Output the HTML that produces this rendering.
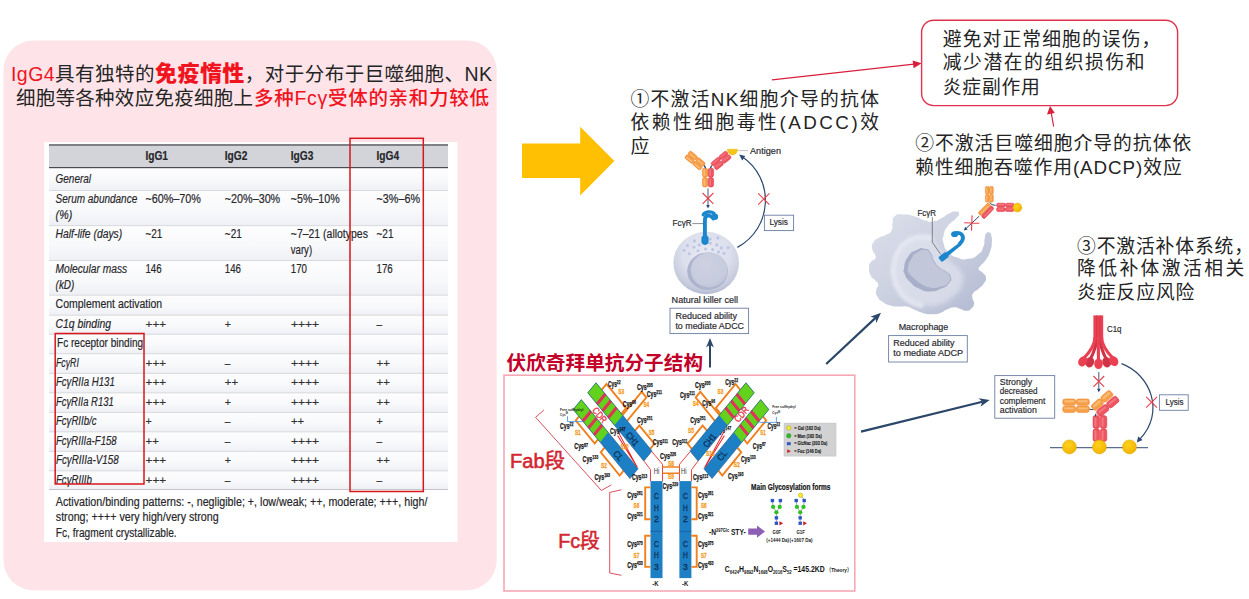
<!DOCTYPE html>
<html lang="zh"><head><meta charset="utf-8"><title>IgG4</title>
<style>
html,body{margin:0;padding:0;background:#fff;}
body{width:1249px;height:599px;overflow:hidden;}
svg{display:block;}
text{font-family:'Liberation Sans','Noto Sans CJK SC',sans-serif;}
</style></head><body>
<svg width="1249" height="599" viewBox="0 0 1249 599">
<rect x="3.5" y="40.5" width="493.2" height="549.8" rx="30" ry="30" fill="#fee4e9"/>
<text x="11" y="80.8" font-size="19.5" textLength="481" lengthAdjust="spacing" fill="#242424"><tspan fill="#f0141e">IgG4</tspan>具有独特的<tspan fill="#f0141e" font-weight="900" font-size="22">免疫惰性</tspan>，对于分布于巨噬细胞、NK</text>
<text x="16" y="105.3" font-size="19.5" textLength="237" lengthAdjust="spacing" fill="#242424">细胞等各种效应免疫细胞上</text>
<text x="254" y="105.3" font-size="19.5" textLength="235" lengthAdjust="spacing" fill="#f0141e" font-weight="500">多种Fcγ受体的亲和力较低</text>
<rect x="44" y="142" width="413.5" height="400" fill="#ffffff"/>
<defs><linearGradient id="rowg" x1="0" y1="0" x2="0" y2="1"><stop offset="0" stop-color="#fdfdfe"/><stop offset="0.55" stop-color="#f8f9fb"/><stop offset="1" stop-color="#eef0f5"/></linearGradient></defs>
<rect x="49" y="145" width="399" height="344.5" fill="#f6f7fa"/>
<rect x="49" y="167.5" width="399" height="22.9" fill="url(#rowg)"/>
<rect x="49" y="190.4" width="399" height="35.2" fill="url(#rowg)"/>
<rect x="49" y="225.6" width="399" height="34.8" fill="url(#rowg)"/>
<rect x="49" y="260.4" width="399" height="34.7" fill="url(#rowg)"/>
<rect x="49" y="295.1" width="399" height="20.0" fill="url(#rowg)"/>
<rect x="49" y="315.1" width="399" height="19.1" fill="url(#rowg)"/>
<rect x="49" y="334.2" width="399" height="19.5" fill="url(#rowg)"/>
<rect x="49" y="353.7" width="399" height="19.6" fill="url(#rowg)"/>
<rect x="49" y="373.3" width="399" height="19.5" fill="url(#rowg)"/>
<rect x="49" y="392.8" width="399" height="19.5" fill="url(#rowg)"/>
<rect x="49" y="412.3" width="399" height="19.5" fill="url(#rowg)"/>
<rect x="49" y="431.8" width="399" height="19.5" fill="url(#rowg)"/>
<rect x="49" y="451.3" width="399" height="19.5" fill="url(#rowg)"/>
<rect x="49" y="470.8" width="399" height="18.6" fill="url(#rowg)"/>
<rect x="49" y="145" width="399" height="22.5" fill="#d3d4da"/>
<rect x="49" y="144.3" width="399" height="1.3" fill="#4a4a50"/>
<rect x="49" y="167" width="399" height="1.2" fill="#4a4a50"/>
<rect x="49" y="190.0" width="399" height="0.9" fill="#d5d6da"/>
<rect x="49" y="225.2" width="399" height="0.9" fill="#d5d6da"/>
<rect x="49" y="260.0" width="399" height="0.9" fill="#d5d6da"/>
<rect x="49" y="294.70000000000005" width="399" height="0.9" fill="#d5d6da"/>
<rect x="49" y="314.70000000000005" width="399" height="0.9" fill="#d5d6da"/>
<rect x="49" y="333.8" width="399" height="0.9" fill="#d5d6da"/>
<rect x="49" y="353.3" width="399" height="0.9" fill="#d5d6da"/>
<rect x="49" y="372.90000000000003" width="399" height="0.9" fill="#d5d6da"/>
<rect x="49" y="392.40000000000003" width="399" height="0.9" fill="#d5d6da"/>
<rect x="49" y="411.90000000000003" width="399" height="0.9" fill="#d5d6da"/>
<rect x="49" y="431.40000000000003" width="399" height="0.9" fill="#d5d6da"/>
<rect x="49" y="450.90000000000003" width="399" height="0.9" fill="#d5d6da"/>
<rect x="49" y="470.40000000000003" width="399" height="0.9" fill="#d5d6da"/>
<rect x="49" y="489" width="399" height="1" fill="#c4c5ca"/>
<g fill="#26262a" stroke="#26262a" stroke-width="0.18">
<text x="145.4" y="160.4" font-size="12" textLength="22.6" lengthAdjust="spacingAndGlyphs" font-weight="bold">IgG1</text>
<text x="224.8" y="160.4" font-size="12" textLength="22.6" lengthAdjust="spacingAndGlyphs" font-weight="bold">IgG2</text>
<text x="290.8" y="160.4" font-size="12" textLength="22.6" lengthAdjust="spacingAndGlyphs" font-weight="bold">IgG3</text>
<text x="376.5" y="160.4" font-size="12" textLength="22.6" lengthAdjust="spacingAndGlyphs" font-weight="bold">IgG4</text>
<text x="55.6" y="183.3" font-size="12" textLength="35.4" lengthAdjust="spacingAndGlyphs" font-style="italic">General</text>
<text x="55.6" y="202.8" font-size="12" textLength="81.6" lengthAdjust="spacingAndGlyphs" font-style="italic">Serum abundance</text>
<text x="55.6" y="218.7" font-size="12" textLength="16.6" lengthAdjust="spacingAndGlyphs" font-style="italic">(%)</text>
<text x="145.4" y="202.8" font-size="12" textLength="55.5" lengthAdjust="spacingAndGlyphs">~60%–70%</text>
<text x="224.8" y="202.8" font-size="12" textLength="55.4" lengthAdjust="spacingAndGlyphs">~20%–30%</text>
<text x="290.8" y="202.8" font-size="12" textLength="48.9" lengthAdjust="spacingAndGlyphs">~5%–10%</text>
<text x="376.5" y="202.8" font-size="12" textLength="43.5" lengthAdjust="spacingAndGlyphs">~3%–6%</text>
<text x="55.6" y="237.6" font-size="12" textLength="66.6" lengthAdjust="spacingAndGlyphs" font-style="italic">Half-life (days)</text>
<text x="145.4" y="237.6" font-size="12" textLength="17" lengthAdjust="spacingAndGlyphs">~21</text>
<text x="224.8" y="237.6" font-size="12" textLength="17" lengthAdjust="spacingAndGlyphs">~21</text>
<text x="290.8" y="237.6" font-size="12" textLength="77.1" lengthAdjust="spacingAndGlyphs">~7–21 (allotypes</text>
<text x="290.8" y="253.7" font-size="12" textLength="21.3" lengthAdjust="spacingAndGlyphs">vary)</text>
<text x="376.5" y="237.6" font-size="12" textLength="17" lengthAdjust="spacingAndGlyphs">~21</text>
<text x="55.6" y="272.8" font-size="12" textLength="71.6" lengthAdjust="spacingAndGlyphs" font-style="italic">Molecular mass</text>
<text x="55.6" y="289" font-size="12" textLength="18.7" lengthAdjust="spacingAndGlyphs" font-style="italic">(kD)</text>
<text x="145.4" y="272.8" font-size="12" textLength="16.2" lengthAdjust="spacingAndGlyphs">146</text>
<text x="224.8" y="272.8" font-size="12" textLength="16.2" lengthAdjust="spacingAndGlyphs">146</text>
<text x="290.8" y="272.8" font-size="12" textLength="16.2" lengthAdjust="spacingAndGlyphs">170</text>
<text x="376.5" y="272.8" font-size="12" textLength="16.2" lengthAdjust="spacingAndGlyphs">176</text>
<text x="55.6" y="308.2" font-size="12" textLength="106.6" lengthAdjust="spacingAndGlyphs">Complement activation</text>
<text x="55.6" y="327.7" font-size="12" textLength="55.4" lengthAdjust="spacingAndGlyphs" font-style="italic">C1q binding</text>
<text x="57" y="346.6" font-size="12" textLength="86.1" lengthAdjust="spacingAndGlyphs">Fc receptor binding</text>
<text x="145.6" y="327.7" font-size="11.5" textLength="20.4" lengthAdjust="spacingAndGlyphs" fill="#3a3a40">+++</text>
<text x="224.8" y="327.7" font-size="11.5" textLength="6.2" lengthAdjust="spacingAndGlyphs" fill="#3a3a40">+</text>
<text x="290.9" y="327.7" font-size="11.5" textLength="28.3" lengthAdjust="spacingAndGlyphs" fill="#3a3a40">++++</text>
<text x="376.6" y="327.7" font-size="11.5" textLength="5.6" lengthAdjust="spacingAndGlyphs" fill="#3a3a40">–</text>
<text x="55.9" y="366.8" font-size="12" textLength="23" lengthAdjust="spacingAndGlyphs" font-style="italic">FcγRI</text>
<text x="145.6" y="366.8" font-size="11.5" textLength="20.4" lengthAdjust="spacingAndGlyphs" fill="#3a3a40">+++</text>
<text x="224.8" y="366.8" font-size="11.5" textLength="5.6" lengthAdjust="spacingAndGlyphs" fill="#3a3a40">–</text>
<text x="290.9" y="366.8" font-size="11.5" textLength="28.3" lengthAdjust="spacingAndGlyphs" fill="#3a3a40">++++</text>
<text x="376.6" y="366.8" font-size="11.5" textLength="13.2" lengthAdjust="spacingAndGlyphs" fill="#3a3a40">++</text>
<text x="55.9" y="386.3" font-size="12" textLength="58.9" lengthAdjust="spacingAndGlyphs" font-style="italic">FcγRIIa H131</text>
<text x="145.6" y="386.3" font-size="11.5" textLength="20.4" lengthAdjust="spacingAndGlyphs" fill="#3a3a40">+++</text>
<text x="224.8" y="386.3" font-size="11.5" textLength="13.2" lengthAdjust="spacingAndGlyphs" fill="#3a3a40">++</text>
<text x="290.9" y="386.3" font-size="11.5" textLength="28.3" lengthAdjust="spacingAndGlyphs" fill="#3a3a40">++++</text>
<text x="376.6" y="386.3" font-size="11.5" textLength="13.2" lengthAdjust="spacingAndGlyphs" fill="#3a3a40">++</text>
<text x="55.9" y="405.8" font-size="12" textLength="57.8" lengthAdjust="spacingAndGlyphs" font-style="italic">FcγRIIa R131</text>
<text x="145.6" y="405.8" font-size="11.5" textLength="20.4" lengthAdjust="spacingAndGlyphs" fill="#3a3a40">+++</text>
<text x="224.8" y="405.8" font-size="11.5" textLength="6.2" lengthAdjust="spacingAndGlyphs" fill="#3a3a40">+</text>
<text x="290.9" y="405.8" font-size="11.5" textLength="28.3" lengthAdjust="spacingAndGlyphs" fill="#3a3a40">++++</text>
<text x="376.6" y="405.8" font-size="11.5" textLength="13.2" lengthAdjust="spacingAndGlyphs" fill="#3a3a40">++</text>
<text x="55.9" y="425.3" font-size="12" textLength="40.6" lengthAdjust="spacingAndGlyphs" font-style="italic">FcγRIIb/c</text>
<text x="145.6" y="425.3" font-size="11.5" textLength="6.2" lengthAdjust="spacingAndGlyphs" fill="#3a3a40">+</text>
<text x="224.8" y="425.3" font-size="11.5" textLength="5.6" lengthAdjust="spacingAndGlyphs" fill="#3a3a40">–</text>
<text x="290.9" y="425.3" font-size="11.5" textLength="13.2" lengthAdjust="spacingAndGlyphs" fill="#3a3a40">++</text>
<text x="376.6" y="425.3" font-size="11.5" textLength="6.2" lengthAdjust="spacingAndGlyphs" fill="#3a3a40">+</text>
<text x="55.9" y="444.8" font-size="12" textLength="60.8" lengthAdjust="spacingAndGlyphs" font-style="italic">FcγRIIIa-F158</text>
<text x="145.6" y="444.8" font-size="11.5" textLength="13.2" lengthAdjust="spacingAndGlyphs" fill="#3a3a40">++</text>
<text x="224.8" y="444.8" font-size="11.5" textLength="5.6" lengthAdjust="spacingAndGlyphs" fill="#3a3a40">–</text>
<text x="290.9" y="444.8" font-size="11.5" textLength="28.3" lengthAdjust="spacingAndGlyphs" fill="#3a3a40">++++</text>
<text x="376.6" y="444.8" font-size="11.5" textLength="5.6" lengthAdjust="spacingAndGlyphs" fill="#3a3a40">–</text>
<text x="55.9" y="464.3" font-size="12" textLength="62.7" lengthAdjust="spacingAndGlyphs" font-style="italic">FcγRIIIa-V158</text>
<text x="145.6" y="464.3" font-size="11.5" textLength="20.4" lengthAdjust="spacingAndGlyphs" fill="#3a3a40">+++</text>
<text x="224.8" y="464.3" font-size="11.5" textLength="6.2" lengthAdjust="spacingAndGlyphs" fill="#3a3a40">+</text>
<text x="290.9" y="464.3" font-size="11.5" textLength="28.3" lengthAdjust="spacingAndGlyphs" fill="#3a3a40">++++</text>
<text x="376.6" y="464.3" font-size="11.5" textLength="13.2" lengthAdjust="spacingAndGlyphs" fill="#3a3a40">++</text>
<text x="55.9" y="483.8" font-size="12" textLength="36" lengthAdjust="spacingAndGlyphs" font-style="italic">FcγRIIIb</text>
<text x="145.6" y="483.8" font-size="11.5" textLength="20.4" lengthAdjust="spacingAndGlyphs" fill="#3a3a40">+++</text>
<text x="224.8" y="483.8" font-size="11.5" textLength="5.6" lengthAdjust="spacingAndGlyphs" fill="#3a3a40">–</text>
<text x="290.9" y="483.8" font-size="11.5" textLength="28.3" lengthAdjust="spacingAndGlyphs" fill="#3a3a40">++++</text>
<text x="376.6" y="483.8" font-size="11.5" textLength="5.6" lengthAdjust="spacingAndGlyphs" fill="#3a3a40">–</text>
<text x="55.8" y="505.8" font-size="12" textLength="371.6" lengthAdjust="spacingAndGlyphs">Activation/binding patterns: -, negligible; +, low/weak; ++, moderate; +++, high/</text>
<text x="55.8" y="521.4" font-size="12" textLength="162.9" lengthAdjust="spacingAndGlyphs">strong; ++++ very high/very strong</text>
<text x="55.8" y="537" font-size="12" textLength="120.9" lengthAdjust="spacingAndGlyphs">Fc, fragment crystallizable.</text>
</g>
<rect x="350" y="138.3" width="73.3" height="353.2" fill="none" stroke="#d8161c" stroke-width="1.5"/>
<rect x="55.2" y="333.5" width="88.8" height="150.5" fill="none" stroke="#d8161c" stroke-width="1.5"/>
<polygon points="522,143.4 580.2,143.4 580.2,126.8 614.4,161 580.2,195.5 580.2,178.1 522,178.1" fill="#ffbf03"/>
<text x="630.4" y="105.5" font-size="18.8" textLength="248.6" lengthAdjust="spacing" fill="#242424"><tspan font-family="Noto Sans CJK SC, sans-serif">①</tspan>不激活NK细胞介导的抗体</text>
<text x="630.4" y="128.5" font-size="18.8" textLength="248.6" lengthAdjust="spacing" fill="#242424">依赖性细胞毒性(ADCC)效</text>
<text x="630.4" y="152.5" font-size="19" fill="#242424">应</text>
<rect x="921.6" y="20.3" width="256" height="85.3" rx="12" ry="12" fill="#fff" stroke="#e0324e" stroke-width="1.4"/>
<text x="942.8" y="45.6" font-size="18.8" textLength="217.5" lengthAdjust="spacing" fill="#242424">避免对正常细胞的误伤，</text>
<text x="942.8" y="69.4" font-size="18.8" textLength="201.7" lengthAdjust="spacing" fill="#242424">减少潜在的组织损伤和</text>
<text x="942.8" y="93.6" font-size="18.8" textLength="97" lengthAdjust="spacing" fill="#242424">炎症副作用</text>
<g stroke="#d8203c" stroke-width="1.2" fill="#d8203c">
<line x1="772" y1="79.9" x2="914" y2="64.2"/>
<polygon points="921.6,63.3 912.6,60.6 913.6,68.2" stroke="none"/>
<line x1="1053.7" y1="126.5" x2="1051.2" y2="113"/>
<polygon points="1050,106 1047.0,114.5 1054.8,113" stroke="none"/>
</g>
<text x="915.2" y="149.8" font-size="18.8" textLength="276" lengthAdjust="spacing" fill="#242424"><tspan font-family="Noto Sans CJK SC, sans-serif">②</tspan>不激活巨噬细胞介导的抗体依</text>
<text x="915.2" y="173.6" font-size="18.8" textLength="266.5" lengthAdjust="spacing" fill="#242424">赖性细胞吞噬作用(ADCP)效应</text>
<text x="1077" y="253" font-size="18.8" textLength="176" lengthAdjust="spacing" fill="#242424"><tspan font-family="Noto Sans CJK SC, sans-serif">③</tspan>不激活补体系统，</text>
<text x="1077" y="275.4" font-size="18.8" textLength="167.2" lengthAdjust="spacing" fill="#242424">降低补体激活相关</text>
<text x="1077" y="299" font-size="18.8" textLength="117.4" lengthAdjust="spacing" fill="#242424">炎症反应风险</text>
<defs>
<radialGradient id="cellg" cx="0.5" cy="0.36" r="0.66">
<stop offset="0" stop-color="#e8eaf3"/><stop offset="0.55" stop-color="#dcdfec"/><stop offset="0.85" stop-color="#c6cbdd"/><stop offset="1" stop-color="#aeb5cf"/>
</radialGradient>
<radialGradient id="nucg" cx="0.4" cy="0.35" r="0.7">
<stop offset="0" stop-color="#cdd1e2"/><stop offset="0.8" stop-color="#c6cbdd"/><stop offset="1" stop-color="#bcc2d7"/>
</radialGradient>
<radialGradient id="yel" cx="0.4" cy="0.35" r="0.65">
<stop offset="0" stop-color="#ffd21e"/><stop offset="1" stop-color="#f2b400"/>
</radialGradient>
<linearGradient id="macg" x1="0" y1="0" x2="1" y2="1">
<stop offset="0" stop-color="#dde0eb"/><stop offset="0.5" stop-color="#cbd0e0"/><stop offset="1" stop-color="#b0b8d0"/>
</linearGradient>
<radialGradient id="halog" cx="0.45" cy="0.45" r="0.6">
<stop offset="0" stop-color="#e6e8f2" stop-opacity="0.95"/><stop offset="0.7" stop-color="#dfe2ee" stop-opacity="0.75"/><stop offset="1" stop-color="#d0d5e4" stop-opacity="0"/>
</radialGradient>
<filter id="blur1" x="-20%" y="-20%" width="140%" height="140%"><feGaussianBlur stdDeviation="1.6"/></filter>
<filter id="blur2" x="-20%" y="-20%" width="140%" height="140%"><feGaussianBlur stdDeviation="2.5"/></filter>
</defs>
<ellipse cx="706.2" cy="263" rx="32.8" ry="31.2" fill="url(#cellg)"/>
<ellipse cx="707.5" cy="271.2" rx="20.3" ry="18.8" fill="#adb4cd"/>
<ellipse cx="709.2" cy="270" rx="18.4" ry="17.4" fill="url(#nucg)"/>
<circle cx="694.5" cy="240.9" r="1.55" fill="#bcc5e6"/><circle cx="687.5" cy="245.5" r="1.55" fill="#bcc5e6"/><circle cx="693.9" cy="247.3" r="1.55" fill="#bcc5e6"/><circle cx="699.2" cy="244.9" r="1.55" fill="#bcc5e6"/><circle cx="710.3" cy="243.2" r="1.55" fill="#bcc5e6"/><circle cx="716.7" cy="244.9" r="1.55" fill="#bcc5e6"/><circle cx="721.4" cy="247.9" r="1.55" fill="#bcc5e6"/><circle cx="728.1" cy="247.6" r="1.55" fill="#bcc5e6"/><circle cx="684" cy="250.2" r="1.55" fill="#bcc5e6"/><circle cx="689.3" cy="253.7" r="1.55" fill="#bcc5e6"/><circle cx="698" cy="250.8" r="1.55" fill="#bcc5e6"/><circle cx="705.6" cy="249" r="1.55" fill="#bcc5e6"/><circle cx="712.6" cy="249.6" r="1.55" fill="#bcc5e6"/><circle cx="718.5" cy="251.9" r="1.55" fill="#bcc5e6"/><circle cx="724" cy="253.5" r="1.55" fill="#bcc5e6"/><circle cx="710.3" cy="239.1" r="1.55" fill="#bcc5e6"/><circle cx="717.9" cy="237.9" r="1.55" fill="#bcc5e6"/>
<path d="M704.9,243 L704.9,220 C704.9,216.5 707,215 709.5,215.6 C711.8,216.2 712.6,217.6 713.2,218.4" stroke="#1a86cc" stroke-width="3.9" fill="none" stroke-linecap="round"/>
<circle cx="714.8" cy="216.8" r="3.3" fill="#1a86cc"/>
<path d="M703.2,214.8 C705,211.5 711,211 714,213.2" stroke="#1a86cc" stroke-width="3.2" fill="none" stroke-linecap="round"/>
<rect x="701.4" y="235.6" width="7.2" height="9" rx="3" fill="#1a86cc"/>
<line x1="692.2" y1="223.6" x2="703.4" y2="223.6" stroke="#444" stroke-width="0.6"/>
<text x="672.6" y="226.2" font-size="8.3" textLength="19" lengthAdjust="spacingAndGlyphs" fill="#2a2a30" stroke="#2a2a30" stroke-width="0.18">FcγR</text>
<g transform="translate(702.90,167.00) rotate(-140.37)"><rect x="0.15" y="-4.60" width="9.89" height="4.35" rx="1.65" fill="#f6a04a" stroke="#ee7c22" stroke-width="0.5"/><rect x="1.34" y="-3.64" width="7.52" height="1.30" rx="0.65" fill="#fcc98a" opacity="0.7"/><rect x="0.15" y="0.25" width="9.89" height="4.35" rx="1.65" fill="#f6a04a" stroke="#ee7c22" stroke-width="0.5"/><rect x="1.34" y="1.21" width="7.52" height="1.30" rx="0.65" fill="#fcc98a" opacity="0.7"/><rect x="10.34" y="-4.60" width="9.89" height="4.35" rx="1.65" fill="#f6a04a" stroke="#ee7c22" stroke-width="0.5"/><rect x="11.53" y="-3.64" width="7.52" height="1.30" rx="0.65" fill="#fcc98a" opacity="0.7"/><rect x="10.34" y="0.25" width="9.89" height="4.35" rx="1.65" fill="#f6a04a" stroke="#ee7c22" stroke-width="0.5"/><rect x="11.53" y="1.21" width="7.52" height="1.30" rx="0.65" fill="#fcc98a" opacity="0.7"/></g>
<g transform="translate(713.40,166.90) rotate(-39.95)"><rect x="0.15" y="-4.60" width="9.74" height="4.35" rx="1.65" fill="#ee5560" stroke="#dc3344" stroke-width="0.5"/><rect x="1.32" y="-3.64" width="7.41" height="1.30" rx="0.65" fill="#f7868c" opacity="0.7"/><rect x="0.15" y="0.25" width="9.74" height="4.35" rx="1.65" fill="#ee5560" stroke="#dc3344" stroke-width="0.5"/><rect x="1.32" y="1.21" width="7.41" height="1.30" rx="0.65" fill="#f7868c" opacity="0.7"/><rect x="10.19" y="-4.60" width="9.74" height="4.35" rx="1.65" fill="#ee5560" stroke="#dc3344" stroke-width="0.5"/><rect x="11.36" y="-3.64" width="7.41" height="1.30" rx="0.65" fill="#f7868c" opacity="0.7"/><rect x="10.19" y="0.25" width="9.74" height="4.35" rx="1.65" fill="#ee5560" stroke="#dc3344" stroke-width="0.5"/><rect x="11.36" y="1.21" width="7.41" height="1.30" rx="0.65" fill="#f7868c" opacity="0.7"/></g>
<rect x="702.40" y="168.20" width="5.30" height="9.00" rx="2.01" fill="#f6a04a" stroke="#ee7c22" stroke-width="0.5"/><rect x="703.57" y="169.28" width="1.59" height="6.84" rx="0.79" fill="#fcc98a" opacity="0.7"/><rect x="702.40" y="177.60" width="5.30" height="9.40" rx="2.01" fill="#f6a04a" stroke="#ee7c22" stroke-width="0.5"/><rect x="703.57" y="178.73" width="1.59" height="7.14" rx="0.79" fill="#fcc98a" opacity="0.7"/><rect x="708.20" y="168.20" width="5.40" height="9.00" rx="2.05" fill="#ee5560" stroke="#dc3344" stroke-width="0.5"/><rect x="709.39" y="169.28" width="1.62" height="6.84" rx="0.81" fill="#f7868c" opacity="0.7"/><rect x="708.20" y="177.60" width="5.40" height="9.40" rx="2.05" fill="#ee5560" stroke="#dc3344" stroke-width="0.5"/><rect x="709.39" y="178.73" width="1.62" height="7.14" rx="0.81" fill="#f7868c" opacity="0.7"/>
<path d="M704.2,165.4 L705.6,168.2 M711.6,165.4 L710.4,168.2" stroke="#2c4870" stroke-width="1.3" fill="none"/>
<path d="M727.3,149.2 L737.6,149.2 A5.15,5.8 0 0 1 727.3,149.2 Z" fill="#f7c51a" stroke="#e0a800" stroke-width="0.4"/>
<line x1="738.4" y1="150.6" x2="748" y2="150.6" stroke="#999" stroke-width="0.6"/>
<text x="750" y="153.8" font-size="8.3" textLength="31" lengthAdjust="spacingAndGlyphs" fill="#2a2a30" stroke="#2a2a30" stroke-width="0.18">Antigen</text>
<line x1="708.0" y1="188.4" x2="708.0" y2="205.0" stroke="#2c4870" stroke-width="0.9"/>
<polygon points="708.0,208.6 706.2,205.0 708.0,205.0 709.8,205.0" fill="#2c4870"/>
<path d="M702.6,193.0 L713.4,203.8 M713.4,193.0 L702.6,203.8" stroke="#e8404c" stroke-width="1.1" fill="none"/>
<path d="M737.4,247.4 C773,228 775,178 741.4,156.2" stroke="#2c4870" stroke-width="1.2" fill="none"/>
<polygon points="739.2,154.6 745.2,156.0 742.2,160.4" fill="#2c4870"/>
<path d="M758.2,193.4 L769.4,204.6 M769.4,193.4 L758.2,204.6" stroke="#e8404c" stroke-width="1.1" fill="none"/>
<rect x="764.4" y="215.2" width="29.2" height="15.4" fill="#fff" stroke="#6c7ca4" stroke-width="0.9"/>
<text x="769.4" y="225.4" font-size="8.3" textLength="18.6" lengthAdjust="spacingAndGlyphs" fill="#2a2a30" stroke="#2a2a30" stroke-width="0.18">Lysis</text>
<text x="671.6" y="303.2" font-size="8.3" textLength="66.4" lengthAdjust="spacingAndGlyphs" fill="#2a2a30" stroke="#2a2a30" stroke-width="0.18">Natural killer cell</text>
<rect x="670" y="308.2" width="78.6" height="25.4" fill="#fff" stroke="#6c7ca4" stroke-width="0.9"/>
<text x="675.4" y="319.2" font-size="8.3" textLength="61.6" lengthAdjust="spacingAndGlyphs" fill="#2a2a30" stroke="#2a2a30" stroke-width="0.18">Reduced ability</text>
<text x="675.4" y="328.8" font-size="8.3" textLength="68.6" lengthAdjust="spacingAndGlyphs" fill="#2a2a30" stroke="#2a2a30" stroke-width="0.18">to mediate ADCC</text>
<line x1="710.0" y1="367.5" x2="710.0" y2="344.8" stroke="#2a4668" stroke-width="2"/>
<polygon points="710.0,338.0 713.9,347.4 710.0,344.8 706.1,347.4" fill="#2a4668"/>
<line x1="826.2" y1="364.0" x2="875.5" y2="317.9" stroke="#2a4668" stroke-width="2.2"/>
<polygon points="881.0,312.7 876.3,323.0 875.5,317.9 870.4,316.7" fill="#2a4668"/>
<line x1="861.0" y1="431.6" x2="982.4" y2="401.8" stroke="#2a4668" stroke-width="2.2"/>
<polygon points="989.7,400.0 980.5,406.7 982.4,401.8 978.5,398.3" fill="#2a4668"/>
<path d="M894.7,216.3 C898.3,213.5 896.9,214.5 903.4,214.5 C909.9,214.5 907.0,214.3 914.3,216.3 C921.5,218.3 918.8,219.0 925.1,220.6 C931.5,222.3 927.9,222.1 933.4,221.3 C938.8,220.5 936.2,220.8 941.4,218.2 C946.6,215.6 944.4,215.7 949.0,213.5 C953.6,211.2 951.7,211.5 955.1,211.5 C958.4,211.5 958.7,211.1 959.0,213.5 C959.3,215.8 959.6,214.3 955.9,218.5 C952.3,222.6 952.0,220.6 947.9,226.0 C943.9,231.5 945.2,228.9 943.8,234.7 C942.3,240.5 942.0,237.6 943.6,243.4 C945.2,249.2 943.9,247.3 948.6,252.1 C953.3,256.9 951.0,255.5 957.7,257.7 C964.3,260.0 961.7,260.0 968.5,258.8 C975.4,257.7 973.4,258.3 978.3,254.3 C983.2,250.2 981.2,251.7 983.3,246.7 C985.4,241.6 983.7,243.4 984.6,239.1 C985.5,234.7 984.5,235.8 986.1,233.6 C987.7,231.5 987.6,231.6 989.4,232.6 C991.2,233.5 990.7,233.0 991.5,236.5 C992.3,239.9 992.2,238.1 991.8,243.0 C991.3,247.8 992.2,245.4 990.2,251.0 C988.3,256.6 989.2,254.8 985.9,259.7 C982.6,264.6 982.8,262.5 980.5,265.8 C978.2,269.0 978.2,267.1 978.9,269.5 C979.7,271.8 980.5,270.3 982.9,272.9 C985.2,275.6 985.6,273.9 985.9,277.5 C986.2,281.0 986.3,279.7 983.7,283.6 C981.2,287.4 981.8,285.9 978.3,289.0 C974.8,292.1 975.3,289.9 973.3,292.9 C971.4,295.9 972.2,294.6 972.4,298.1 C972.7,301.6 974.3,299.8 974.0,303.3 C973.6,306.8 973.9,306.1 971.4,308.5 C968.8,311.0 970.2,310.6 966.4,310.7 C962.5,310.8 964.2,309.8 959.8,308.7 C955.5,307.7 957.7,307.2 953.3,307.4 C949.0,307.7 951.2,307.8 946.8,309.6 C942.5,311.4 945.4,311.4 940.3,312.9 C935.2,314.4 937.4,314.2 931.6,314.2 C925.8,314.2 928.7,314.4 922.9,312.9 C917.2,311.4 919.7,311.7 914.3,309.6 C908.8,307.5 911.7,307.6 906.7,306.6 C901.6,305.6 904.5,306.9 899.1,306.6 C893.6,306.2 895.8,307.0 890.4,305.5 C885.0,304.0 887.1,305.0 882.8,302.0 C878.5,299.1 879.5,300.6 877.4,296.6 C875.2,292.6 876.0,294.1 876.3,290.1 C876.6,286.1 878.6,287.9 878.2,284.7 C877.9,281.4 877.8,283.6 875.2,280.3 C872.6,277.1 872.4,279.2 870.4,274.9 C868.4,270.5 869.0,271.6 869.1,267.3 C869.3,262.9 868.8,264.8 870.9,261.9 C872.9,258.9 873.9,260.9 875.2,258.4 C876.5,255.9 875.8,257.4 874.8,254.3 C873.7,251.1 872.6,252.8 872.2,248.8 C871.7,244.9 871.4,245.9 873.5,242.3 C875.6,238.7 874.3,240.5 878.5,238.0 C882.6,235.5 881.7,237.3 886.0,234.7 C890.4,232.2 889.3,234.4 891.5,230.4 C893.6,226.4 891.5,227.5 892.6,222.8 C893.6,218.1 891.1,219.0 894.7,216.3 Z" fill="url(#macg)"/>
<path d="M930.1,238.3 C926.1,238.3 925.6,236.8 918.0,238.3 C910.5,239.7 913.6,238.3 907.4,242.7 C901.1,247.1 903.6,244.0 899.3,251.4 C895.1,258.7 896.1,255.8 894.7,264.7 C893.2,273.6 893.3,269.6 895.1,278.1 C896.9,286.5 895.5,283.0 900.0,290.1 C904.6,297.2 901.8,294.6 908.7,299.4 C915.6,304.3 916.7,303.0 920.7,304.8" fill="none" stroke="#e9ebf4" stroke-width="6.5" stroke-linecap="round" opacity="0.85" filter="url(#blur1)"/>
<path d="M930.1,239.3 C922.5,235.8 925.6,238.0 918.0,239.3 C910.5,240.7 913.4,239.1 907.4,243.4 C901.4,247.6 903.9,244.9 900.0,252.0 C896.1,259.2 896.9,256.0 895.6,264.7 C894.3,273.4 894.3,269.6 896.0,278.1 C897.7,286.5 896.2,283.0 900.7,290.1 C905.1,297.2 902.2,294.6 909.4,299.4 C916.5,304.3 912.5,303.0 922.1,304.8 C931.6,306.6 927.8,307.5 938.1,304.8 C948.3,302.1 944.8,303.9 952.8,296.8 C960.8,289.7 959.9,292.3 962.1,283.4 C964.3,274.5 963.9,277.6 959.4,270.1 C955.0,262.5 955.0,267.4 948.8,260.7 C942.5,254.0 947.0,257.2 940.8,250.0 C934.5,242.9 937.6,242.9 930.1,239.3 Z" fill="#dde0ec" opacity="0.8" filter="url(#blur2)"/>
<path d="M904.0,268.7 C905.1,262.9 903.8,262.9 908.0,256.7 C912.3,250.5 911.1,252.7 916.7,250.0 C922.3,247.4 920.1,247.8 924.7,248.7 C929.4,249.6 927.6,248.7 930.7,252.7 C933.9,256.7 931.2,255.8 934.1,260.7 C937.0,265.6 935.4,263.8 939.4,267.4 C943.4,271.0 942.3,268.3 946.1,271.4 C949.9,274.5 949.9,272.7 950.8,276.7 C951.7,280.8 952.1,279.4 948.8,283.4 C945.4,287.4 947.0,286.1 940.8,288.8 C934.5,291.4 937.2,291.4 930.1,291.4 C922.9,291.4 926.1,291.9 919.4,288.8 C912.7,285.6 914.9,287.0 910.0,282.1 C905.1,277.2 906.7,278.5 904.7,274.1 C902.7,269.6 902.9,274.5 904.0,268.7 Z" fill="#a8afc8"/>
<path d="M908.0,268.7 C908.6,263.6 908.0,264.3 911.4,258.7 C914.7,253.1 913.5,254.9 918.0,252.0 C922.6,249.1 921.0,249.5 925.0,250.0 C929.0,250.5 927.2,249.8 930.1,253.5 C932.9,257.2 930.6,256.4 933.5,261.3 C936.5,266.1 934.9,264.4 938.9,267.9 C942.9,271.5 941.9,268.9 945.6,271.9 C949.2,275.0 949.0,273.4 949.8,277.0 C950.6,280.7 951.0,279.7 948.0,282.9 C944.9,286.1 946.3,285.0 940.8,286.6 C935.2,288.2 937.4,288.3 931.4,287.7 C925.4,287.1 928.3,287.7 922.7,284.8 C917.2,281.8 919.0,282.3 914.7,278.7 C910.4,275.2 912.0,277.4 909.8,274.1 C907.5,270.7 907.5,273.9 908.0,268.7 Z" fill="#c2c7da"/>
<g transform="translate(943.6,257.0) rotate(-38)"><rect x="-4.6" y="-3.1" width="9.2" height="6.2" rx="1.6" fill="#1a86cc"/><polygon points="4,-2 21.6,-1.5 21.6,1.5 4,2" fill="#1a86cc"/></g>
<path d="M959.8,243.6 C962.6,241 963.6,238.6 962.6,236 C961.6,233.4 958.6,232.4 955.6,233.2" stroke="#1a86cc" stroke-width="3.9" fill="none" stroke-linecap="round"/>
<ellipse cx="954.6" cy="234.2" rx="3.5" ry="2.9" fill="#1a86cc"/>
<path d="M932.3,217 L932.3,242.3 L940.7,254.3" stroke="#444" stroke-width="0.6" fill="none"/>
<text x="917.5" y="215.6" font-size="8.3" textLength="18.5" lengthAdjust="spacingAndGlyphs" fill="#2a2a30" stroke="#2a2a30" stroke-width="0.18">FcγR</text>
<rect x="985.40" y="186.40" width="3.80" height="7.80" rx="1.44" fill="#f6a04a" stroke="#ee7c22" stroke-width="0.5"/><rect x="986.24" y="187.34" width="1.14" height="5.93" rx="0.57" fill="#fcc98a" opacity="0.7"/><rect x="985.40" y="194.40" width="3.80" height="7.80" rx="1.44" fill="#f6a04a" stroke="#ee7c22" stroke-width="0.5"/><rect x="986.24" y="195.34" width="1.14" height="5.93" rx="0.57" fill="#fcc98a" opacity="0.7"/><rect x="989.50" y="186.40" width="3.80" height="7.80" rx="1.44" fill="#f6a04a" stroke="#ee7c22" stroke-width="0.5"/><rect x="990.34" y="187.34" width="1.14" height="5.93" rx="0.57" fill="#fcc98a" opacity="0.7"/><rect x="989.50" y="194.40" width="3.80" height="7.80" rx="1.44" fill="#f6a04a" stroke="#ee7c22" stroke-width="0.5"/><rect x="990.34" y="195.34" width="1.14" height="5.93" rx="0.57" fill="#fcc98a" opacity="0.7"/>
<g transform="translate(989.60,204.00) rotate(134.44)"><rect x="0.00" y="-2.10" width="14.57" height="4.20" rx="1.60" fill="#f6a04a" stroke="#ee7c22" stroke-width="0.5"/><rect x="1.75" y="-1.18" width="11.07" height="1.26" rx="0.63" fill="#fcc98a" opacity="0.7"/></g>
<g transform="translate(992.80,207.00) rotate(133.90)"><rect x="0.00" y="-2.10" width="14.71" height="4.20" rx="1.60" fill="#ee5560" stroke="#dc3344" stroke-width="0.5"/><rect x="1.77" y="-1.18" width="11.18" height="1.26" rx="0.63" fill="#f7868c" opacity="0.7"/></g>
<rect x="996.60" y="203.20" width="8.60" height="3.90" rx="1.48" fill="#ee5560" stroke="#dc3344" stroke-width="0.5"/><rect x="997.63" y="204.06" width="6.54" height="1.17" rx="0.58" fill="#f7868c" opacity="0.7"/><rect x="1005.40" y="203.20" width="8.60" height="3.90" rx="1.48" fill="#ee5560" stroke="#dc3344" stroke-width="0.5"/><rect x="1006.43" y="204.06" width="6.54" height="1.17" rx="0.58" fill="#f7868c" opacity="0.7"/><rect x="996.60" y="207.60" width="8.60" height="3.90" rx="1.48" fill="#ee5560" stroke="#dc3344" stroke-width="0.5"/><rect x="997.63" y="208.46" width="6.54" height="1.17" rx="0.58" fill="#f7868c" opacity="0.7"/><rect x="1005.40" y="207.60" width="8.60" height="3.90" rx="1.48" fill="#ee5560" stroke="#dc3344" stroke-width="0.5"/><rect x="1006.43" y="208.46" width="6.54" height="1.17" rx="0.58" fill="#f7868c" opacity="0.7"/>
<circle cx="1017.4" cy="207.6" r="4.5" fill="url(#yel)" stroke="#e0a800" stroke-width="0.4"/>
<path d="M989.8,202.4 L991.6,204.6 L995.6,205.4" stroke="#2c4870" stroke-width="1" fill="none"/>
<line x1="979.2" y1="216.2" x2="966.4" y2="228.1" stroke="#2c4870" stroke-width="1.0"/>
<polygon points="963.8,230.6 965.2,226.8 966.4,228.1 967.7,229.5" fill="#2c4870"/>
<g transform="rotate(47 971.8 223)">
<path d="M966.4,217.6 L977.2,228.4 M977.2,217.6 L966.4,228.4" stroke="#e8404c" stroke-width="1.1" fill="none"/>
</g>
<text x="898.7" y="330.4" font-size="8.3" textLength="49.6" lengthAdjust="spacingAndGlyphs" fill="#2a2a30" stroke="#2a2a30" stroke-width="0.18">Macrophage</text>
<rect x="888.6" y="335.6" width="78.7" height="26.4" fill="#fff" stroke="#6c7ca4" stroke-width="0.9"/>
<text x="893.3" y="346.2" font-size="8.3" textLength="61.3" lengthAdjust="spacingAndGlyphs" fill="#2a2a30" stroke="#2a2a30" stroke-width="0.18">Reduced ability</text>
<text x="893.3" y="356.4" font-size="8.3" textLength="69.9" lengthAdjust="spacingAndGlyphs" fill="#2a2a30" stroke="#2a2a30" stroke-width="0.18">to mediate ADCP</text>
<rect x="994.8" y="375.6" width="59.9" height="42.6" fill="#fff" stroke="#6c7ca4" stroke-width="0.9"/>
<text x="999.8" y="385.2" font-size="8.3" textLength="32.4" lengthAdjust="spacingAndGlyphs" fill="#2a2a30" stroke="#2a2a30" stroke-width="0.18">Strongly</text>
<text x="999.8" y="394.4" font-size="8.3" textLength="37.6" lengthAdjust="spacingAndGlyphs" fill="#2a2a30" stroke="#2a2a30" stroke-width="0.18">decreased</text>
<text x="999.8" y="403.6" font-size="8.3" textLength="45.5" lengthAdjust="spacingAndGlyphs" fill="#2a2a30" stroke="#2a2a30" stroke-width="0.18">complement</text>
<text x="999.8" y="413" font-size="8.3" textLength="37" lengthAdjust="spacingAndGlyphs" fill="#2a2a30" stroke="#2a2a30" stroke-width="0.18">activation</text>
<rect x="1093.4" y="315.4" width="9.8" height="24" fill="#ea4052"/><path d="M1096.6,315.4 L1096.6,339 M1100,315.4 L1100,339" stroke="#cf3446" stroke-width="0.7"/><path d="M1096.8,337 Q1096.8,347 1089.8,360.2" stroke="#cf3446" stroke-width="3.1" fill="none"/><ellipse cx="1089.8" cy="362.2" rx="4.3" ry="5.3" fill="#cf3446" transform="rotate(18 1089.8 362.2)"/><path d="M1099.8,337 Q1099.8,347 1106.7,360.2" stroke="#cf3446" stroke-width="3.1" fill="none"/><ellipse cx="1106.7" cy="362.2" rx="4.3" ry="5.3" fill="#cf3446" transform="rotate(-18 1106.7 362.2)"/><path d="M1095.0,337 Q1095.0,347 1082.8,359.4" stroke="#ea4052" stroke-width="3.1" fill="none"/><ellipse cx="1082.8" cy="361.4" rx="4.3" ry="5.3" fill="#ea4052" transform="rotate(34 1082.8 361.4)"/><path d="M1101.6,337 Q1101.6,347 1113.7,359.0" stroke="#ea4052" stroke-width="3.1" fill="none"/><ellipse cx="1113.7" cy="361.0" rx="4.3" ry="5.3" fill="#ea4052" transform="rotate(-34 1113.7 361.0)"/><path d="M1098.3,337 Q1098.3,347 1098.5,361.8" stroke="#ea4052" stroke-width="3.1" fill="none"/><ellipse cx="1098.5" cy="363.8" rx="4.3" ry="5.3" fill="#ea4052" transform="rotate(0 1098.5 363.8)"/>
<text x="1107" y="332" font-size="8.3" textLength="14.4" lengthAdjust="spacingAndGlyphs" fill="#2a2a30" stroke="#2a2a30" stroke-width="0.18">C1q</text>
<line x1="1098.8" y1="372.0" x2="1098.8" y2="388.8" stroke="#2c4870" stroke-width="0.9"/>
<polygon points="1098.8,392.4 1097.0,388.8 1098.8,388.8 1100.6,388.8" fill="#2c4870"/>
<path d="M1093.4,376.0 L1104.2,386.8 M1104.2,376.0 L1093.4,386.8" stroke="#e8404c" stroke-width="1.1" fill="none"/>
<rect x="1062.70" y="398.90" width="13.00" height="6.40" rx="2.43" fill="#f6a04a" stroke="#ee7c22" stroke-width="0.5"/><rect x="1064.26" y="400.31" width="9.88" height="1.92" rx="0.96" fill="#fcc98a" opacity="0.7"/><rect x="1076.20" y="398.90" width="13.20" height="6.40" rx="2.43" fill="#f6a04a" stroke="#ee7c22" stroke-width="0.5"/><rect x="1077.78" y="400.31" width="10.03" height="1.92" rx="0.96" fill="#fcc98a" opacity="0.7"/><rect x="1062.70" y="406.00" width="13.00" height="6.40" rx="2.43" fill="#f6a04a" stroke="#ee7c22" stroke-width="0.5"/><rect x="1064.26" y="407.41" width="9.88" height="1.92" rx="0.96" fill="#fcc98a" opacity="0.7"/><rect x="1076.20" y="406.00" width="13.20" height="6.40" rx="2.43" fill="#f6a04a" stroke="#ee7c22" stroke-width="0.5"/><rect x="1077.78" y="407.41" width="10.03" height="1.92" rx="0.96" fill="#fcc98a" opacity="0.7"/>
<g transform="translate(1092.60,408.80) rotate(-41.14)"><rect x="0.15" y="-3.60" width="12.32" height="7.20" rx="2.74" fill="#f6a04a" stroke="#ee7c22" stroke-width="0.5"/><rect x="1.63" y="-2.02" width="9.36" height="2.16" rx="1.08" fill="#fcc98a" opacity="0.7"/><rect x="12.77" y="-3.60" width="12.32" height="7.20" rx="2.74" fill="#f6a04a" stroke="#ee7c22" stroke-width="0.5"/><rect x="14.24" y="-2.02" width="9.36" height="2.16" rx="1.08" fill="#fcc98a" opacity="0.7"/></g>
<g transform="translate(1097.80,414.60) rotate(-39.69)"><rect x="0.15" y="-3.60" width="12.70" height="7.20" rx="2.74" fill="#ee5560" stroke="#dc3344" stroke-width="0.5"/><rect x="1.67" y="-2.02" width="9.65" height="2.16" rx="1.08" fill="#f7868c" opacity="0.7"/><rect x="13.15" y="-3.60" width="12.70" height="7.20" rx="2.74" fill="#ee5560" stroke="#dc3344" stroke-width="0.5"/><rect x="14.67" y="-2.02" width="9.65" height="2.16" rx="1.08" fill="#f7868c" opacity="0.7"/></g>
<rect x="1093.00" y="415.60" width="6.60" height="12.80" rx="2.51" fill="#ee5560" stroke="#dc3344" stroke-width="0.5"/><rect x="1094.45" y="417.14" width="1.98" height="9.73" rx="0.99" fill="#f7868c" opacity="0.7"/><rect x="1093.00" y="428.80" width="6.60" height="12.80" rx="2.51" fill="#ee5560" stroke="#dc3344" stroke-width="0.5"/><rect x="1094.45" y="430.34" width="1.98" height="9.73" rx="0.99" fill="#f7868c" opacity="0.7"/><rect x="1100.20" y="415.60" width="6.60" height="12.80" rx="2.51" fill="#ee5560" stroke="#dc3344" stroke-width="0.5"/><rect x="1101.65" y="417.14" width="1.98" height="9.73" rx="0.99" fill="#f7868c" opacity="0.7"/><rect x="1100.20" y="428.80" width="6.60" height="12.80" rx="2.51" fill="#ee5560" stroke="#dc3344" stroke-width="0.5"/><rect x="1101.65" y="430.34" width="1.98" height="9.73" rx="0.99" fill="#f7868c" opacity="0.7"/>
<path d="M1089.6,409.2 L1093.2,409.8 M1096,413.6 L1095,416.4" stroke="#2c4870" stroke-width="1.1" fill="none"/>
<line x1="1050" y1="447.6" x2="1148" y2="447.6" stroke="#5c6c90" stroke-width="1.1"/>
<circle cx="1069.4" cy="446.9" r="7" fill="url(#yel)" stroke="#dca400" stroke-width="0.5"/>
<circle cx="1099.4" cy="446.9" r="7" fill="url(#yel)" stroke="#dca400" stroke-width="0.5"/>
<circle cx="1129.5" cy="446.9" r="7" fill="url(#yel)" stroke="#dca400" stroke-width="0.5"/>
<path d="M1121.5,363.6 C1150,374 1166,412 1139.4,439.6" stroke="#2c4870" stroke-width="1.2" fill="none"/>
<polygon points="1136.8,442.4 1138.2,436.4 1142.6,440.0" fill="#2c4870"/>
<path d="M1146.2,396.9 L1157.0,407.7 M1157.0,396.9 L1146.2,407.7" stroke="#e8404c" stroke-width="1.1" fill="none"/>
<rect x="1159.4" y="394.8" width="28.8" height="15.5" fill="#fff" stroke="#6c7ca4" stroke-width="0.9"/>
<text x="1165.5" y="405" font-size="8.3" textLength="18" lengthAdjust="spacingAndGlyphs" fill="#2a2a30" stroke="#2a2a30" stroke-width="0.18">Lysis</text>
<text x="506.5" y="369.6" font-size="19.6" font-weight="bold" fill="#c2002a" textLength="196.5" lengthAdjust="spacing">伏欣奇拜单抗分子结构</text>
<rect x="504" y="375.2" width="350.8" height="215.8" fill="#fff" stroke="#f6a8b6" stroke-width="1.6"/>
<text x="715.6" y="432.5" font-size="8.4" font-weight="bold" fill="#141414" stroke="#141414" stroke-width="0.25" textLength="15.6" lengthAdjust="spacingAndGlyphs">Cys<tspan font-size="5.7" dy="-2.9">147</tspan></text>
<g transform="translate(0,375) scale(1,1.217)"><g transform="translate(591.9,10.44) rotate(45)"><path d="M8.2,-5.8 L8.2,-12.4 L36,-12.4 L36,-5.8" fill="none" stroke="#f0801e" stroke-width="1.75" stroke-linejoin="miter"/><path d="M37.6,-5.8 L37.6,-32.8 L44.2,-32.8 L44.2,-5.8" fill="none" stroke="#f0801e" stroke-width="1.75" stroke-linejoin="miter"/><path d="M55.4,-5.8 L55.4,-11.6 L76.7,-11.6 L76.7,-5.8" fill="none" stroke="#f0801e" stroke-width="1.75" stroke-linejoin="miter"/><path d="M7.6,25.9 L7.6,30.4 L34.4,30.4 L34.4,25.9" fill="none" stroke="#f0801e" stroke-width="1.75" stroke-linejoin="miter"/><path d="M43.8,25.9 L43.8,31.3 L70.6,31.3 L70.6,25.9" fill="none" stroke="#f0801e" stroke-width="1.75" stroke-linejoin="miter"/><rect x="0" y="-5.8" width="79.3" height="11.7" fill="#1d7fc4"/><rect x="0" y="-5.8" width="37.8" height="11.7" fill="#62d21c"/><rect x="11.799999999999999" y="-5.8" width="2.8" height="11.7" fill="#e2315c"/><rect x="19.6" y="-5.8" width="2.8" height="11.7" fill="#e2315c"/><rect x="27.6" y="-5.8" width="2.8" height="11.7" fill="#e2315c"/><rect x="0" y="-5.8" width="79.3" height="11.7" fill="none" stroke="#1b4f86" stroke-width="0.5"/><rect x="-0.6" y="14.4" width="80.3" height="11.5" fill="#1d7fc4"/><rect x="-0.6" y="14.4" width="38" height="11.5" fill="#62d21c"/><rect x="11.6" y="14.4" width="2.8" height="11.5" fill="#e2315c"/><rect x="19.6" y="14.4" width="2.8" height="11.5" fill="#e2315c"/><rect x="27.5" y="14.4" width="2.8" height="11.5" fill="#e2315c"/><rect x="-0.6" y="14.4" width="80.3" height="11.5" fill="none" stroke="#1b4f86" stroke-width="0.5"/><path d="M43.6,7.0 L78.4,14.2 M46,9.6 L78.4,14.2" stroke="#e8202c" stroke-width="0.9" fill="none"/></g><g transform="translate(1342,0) scale(-1,1)"><g transform="translate(591.9,10.44) rotate(45)"><path d="M8.2,-5.8 L8.2,-12.4 L36,-12.4 L36,-5.8" fill="none" stroke="#f0801e" stroke-width="1.75" stroke-linejoin="miter"/><path d="M37.6,-5.8 L37.6,-32.8 L44.2,-32.8 L44.2,-5.8" fill="none" stroke="#f0801e" stroke-width="1.75" stroke-linejoin="miter"/><path d="M55.4,-5.8 L55.4,-11.6 L76.7,-11.6 L76.7,-5.8" fill="none" stroke="#f0801e" stroke-width="1.75" stroke-linejoin="miter"/><path d="M7.6,25.9 L7.6,30.4 L34.4,30.4 L34.4,25.9" fill="none" stroke="#f0801e" stroke-width="1.75" stroke-linejoin="miter"/><path d="M43.8,25.9 L43.8,31.3 L70.6,31.3 L70.6,25.9" fill="none" stroke="#f0801e" stroke-width="1.75" stroke-linejoin="miter"/><rect x="0" y="-5.8" width="79.3" height="11.7" fill="#1d7fc4"/><rect x="0" y="-5.8" width="37.8" height="11.7" fill="#62d21c"/><rect x="11.799999999999999" y="-5.8" width="2.8" height="11.7" fill="#e2315c"/><rect x="19.6" y="-5.8" width="2.8" height="11.7" fill="#e2315c"/><rect x="27.6" y="-5.8" width="2.8" height="11.7" fill="#e2315c"/><rect x="0" y="-5.8" width="79.3" height="11.7" fill="none" stroke="#1b4f86" stroke-width="0.5"/><rect x="-0.6" y="14.4" width="80.3" height="11.5" fill="#1d7fc4"/><rect x="-0.6" y="14.4" width="38" height="11.5" fill="#62d21c"/><rect x="11.6" y="14.4" width="2.8" height="11.5" fill="#e2315c"/><rect x="19.6" y="14.4" width="2.8" height="11.5" fill="#e2315c"/><rect x="27.5" y="14.4" width="2.8" height="11.5" fill="#e2315c"/><rect x="-0.6" y="14.4" width="80.3" height="11.5" fill="none" stroke="#1b4f86" stroke-width="0.5"/><path d="M43.6,7.0 L78.4,14.2 M46,9.6 L78.4,14.2" stroke="#e8202c" stroke-width="0.9" fill="none"/></g></g></g>
<text transform="translate(599.8,415) rotate(50.6)" text-anchor="middle" font-size="9.5" fill="#e8283a" stroke="#e8283a" stroke-width="0.3" textLength="17" lengthAdjust="spacingAndGlyphs" y="3.3">CDR</text>
<text transform="translate(741.4,414.4) rotate(-50.6)" text-anchor="middle" font-size="9.5" fill="#e8283a" stroke="#e8283a" stroke-width="0.3" textLength="17" lengthAdjust="spacingAndGlyphs" y="3.3">CDR</text>
<text transform="translate(632.4,439) rotate(50.6)" text-anchor="middle" font-size="9" fill="#0e2f55" stroke="#0e2f55" stroke-width="0.3" textLength="15" lengthAdjust="spacingAndGlyphs" y="3.1">CH1</text>
<text transform="translate(709.6,440.6) rotate(-50.6)" text-anchor="middle" font-size="9" fill="#0e2f55" stroke="#0e2f55" stroke-width="0.3" textLength="15" lengthAdjust="spacingAndGlyphs" y="3.1">CH1</text>
<text transform="translate(618.4,455.6) rotate(50.6)" text-anchor="middle" font-size="9" fill="#0e2f55" stroke="#0e2f55" stroke-width="0.3" textLength="10" lengthAdjust="spacingAndGlyphs" y="3.1">CL</text>
<text transform="translate(722,455.6) rotate(-50.6)" text-anchor="middle" font-size="9" fill="#0e2f55" stroke="#0e2f55" stroke-width="0.3" textLength="10" lengthAdjust="spacingAndGlyphs" y="3.1">CL</text>
<text x="608" y="386.8" font-size="8.4" font-weight="bold" fill="#141414" stroke="#141414" stroke-width="0.25" textLength="12.5" lengthAdjust="spacingAndGlyphs">Cys<tspan font-size="5.7" dy="-2.9">22</tspan></text>
<text x="618.3" y="394.4" font-size="7.4" font-weight="bold" fill="#f59a1c" stroke="#f59a1c" stroke-width="0.3" textLength="5.8" lengthAdjust="spacingAndGlyphs">S3</text>
<text x="622.7" y="407" font-size="8.4" font-weight="bold" fill="#141414" stroke="#141414" stroke-width="0.25" textLength="13.3" lengthAdjust="spacingAndGlyphs">Cys<tspan font-size="5.7" dy="-2.9">96</tspan></text>
<text x="637" y="389.7" font-size="8.4" font-weight="bold" fill="#141414" stroke="#141414" stroke-width="0.25" textLength="15.8" lengthAdjust="spacingAndGlyphs">Cys<tspan font-size="5.7" dy="-2.9">205</tspan></text>
<text x="646.8" y="397" font-size="8.4" font-weight="bold" fill="#141414" stroke="#141414" stroke-width="0.25" textLength="15.2" lengthAdjust="spacingAndGlyphs">Cys<tspan font-size="5.7" dy="-2.9">211</tspan></text>
<text x="643.4" y="407" font-size="7.4" font-weight="bold" fill="#f59a1c" stroke="#f59a1c" stroke-width="0.3" textLength="5.8" lengthAdjust="spacingAndGlyphs">S4</text>
<text x="637" y="423.3" font-size="8.4" font-weight="bold" fill="#141414" stroke="#141414" stroke-width="0.25" textLength="15.5" lengthAdjust="spacingAndGlyphs">Cys<tspan font-size="5.7" dy="-2.9">251</tspan></text>
<text x="648.8" y="434.7" font-size="7.4" font-weight="bold" fill="#f59a1c" stroke="#f59a1c" stroke-width="0.3" textLength="5.6" lengthAdjust="spacingAndGlyphs">S5</text>
<text x="652.8" y="445.4" font-size="8.4" font-weight="bold" fill="#141414" stroke="#141414" stroke-width="0.25" textLength="15.2" lengthAdjust="spacingAndGlyphs">Cys<tspan font-size="5.7" dy="-2.9">311</tspan></text>
<text x="610" y="433.5" font-size="8.4" font-weight="bold" fill="#141414" stroke="#141414" stroke-width="0.25" textLength="15.4" lengthAdjust="spacingAndGlyphs">Cys<tspan font-size="5.7" dy="-2.9">147</tspan></text>
<text x="620.4" y="448.5" font-size="7.4" font-weight="bold" fill="#f59a1c" stroke="#f59a1c" stroke-width="0.3" textLength="8" lengthAdjust="spacingAndGlyphs">S10</text>
<text x="560.1" y="429.2" font-size="8.4" font-weight="bold" fill="#141414" stroke="#141414" stroke-width="0.25" textLength="13.3" lengthAdjust="spacingAndGlyphs">Cys<tspan font-size="5.7" dy="-2.9">22</tspan></text>
<text x="574.9" y="434.7" font-size="7.4" font-weight="bold" fill="#f59a1c" stroke="#f59a1c" stroke-width="0.3" textLength="5.8" lengthAdjust="spacingAndGlyphs">S1</text>
<text x="574.3" y="449.4" font-size="8.4" font-weight="bold" fill="#141414" stroke="#141414" stroke-width="0.25" textLength="13.8" lengthAdjust="spacingAndGlyphs">Cys<tspan font-size="5.7" dy="-2.9">87</tspan></text>
<text x="582.6" y="462.3" font-size="8.4" font-weight="bold" fill="#141414" stroke="#141414" stroke-width="0.25" textLength="15.6" lengthAdjust="spacingAndGlyphs">Cys<tspan font-size="5.7" dy="-2.9">133</tspan></text>
<text x="601" y="468" font-size="7.4" font-weight="bold" fill="#f59a1c" stroke="#f59a1c" stroke-width="0.3" textLength="6" lengthAdjust="spacingAndGlyphs">S2</text>
<text x="594.5" y="480" font-size="8.4" font-weight="bold" fill="#141414" stroke="#141414" stroke-width="0.25" textLength="15.6" lengthAdjust="spacingAndGlyphs">Cys<tspan font-size="5.7" dy="-2.9">193</tspan></text>
<text x="632" y="480.4" font-size="8.4" font-weight="bold" fill="#141414" stroke="#141414" stroke-width="0.25" textLength="15.2" lengthAdjust="spacingAndGlyphs">Cys<tspan font-size="5.7" dy="-2.9">213</tspan></text>
<text x="725.3" y="384.7" font-size="8.4" font-weight="bold" fill="#141414" stroke="#141414" stroke-width="0.25" textLength="12.8" lengthAdjust="spacingAndGlyphs">Cys<tspan font-size="5.7" dy="-2.9">22</tspan></text>
<text x="717.5" y="394.3" font-size="7.4" font-weight="bold" fill="#f59a1c" stroke="#f59a1c" stroke-width="0.3" textLength="5.9" lengthAdjust="spacingAndGlyphs">S3</text>
<text x="702.3" y="405.8" font-size="8.4" font-weight="bold" fill="#141414" stroke="#141414" stroke-width="0.25" textLength="12.8" lengthAdjust="spacingAndGlyphs">Cys<tspan font-size="5.7" dy="-2.9">96</tspan></text>
<text x="694.9" y="388" font-size="8.4" font-weight="bold" fill="#141414" stroke="#141414" stroke-width="0.25" textLength="15.7" lengthAdjust="spacingAndGlyphs">Cys<tspan font-size="5.7" dy="-2.9">205</tspan></text>
<text x="679.9" y="397.6" font-size="8.4" font-weight="bold" fill="#141414" stroke="#141414" stroke-width="0.25" textLength="15" lengthAdjust="spacingAndGlyphs">Cys<tspan font-size="5.7" dy="-2.9">211</tspan></text>
<text x="692.7" y="406.4" font-size="7.4" font-weight="bold" fill="#f59a1c" stroke="#f59a1c" stroke-width="0.3" textLength="5.9" lengthAdjust="spacingAndGlyphs">S4</text>
<text x="690.3" y="423.3" font-size="8.4" font-weight="bold" fill="#141414" stroke="#141414" stroke-width="0.25" textLength="15.3" lengthAdjust="spacingAndGlyphs">Cys<tspan font-size="5.7" dy="-2.9">251</tspan></text>
<text x="687.9" y="433.4" font-size="7.4" font-weight="bold" fill="#f59a1c" stroke="#f59a1c" stroke-width="0.3" textLength="6.1" lengthAdjust="spacingAndGlyphs">S5</text>
<text x="672.3" y="445.4" font-size="8.4" font-weight="bold" fill="#141414" stroke="#141414" stroke-width="0.25" textLength="15.1" lengthAdjust="spacingAndGlyphs">Cys<tspan font-size="5.7" dy="-2.9">311</tspan></text>
<text x="706" y="456.4" font-size="7.4" font-weight="bold" fill="#f59a1c" stroke="#f59a1c" stroke-width="0.3" textLength="8.6" lengthAdjust="spacingAndGlyphs">S10</text>
<text x="767.5" y="429.2" font-size="8.4" font-weight="bold" fill="#141414" stroke="#141414" stroke-width="0.25" textLength="12.5" lengthAdjust="spacingAndGlyphs">Cys<tspan font-size="5.7" dy="-2.9">22</tspan></text>
<text x="760.2" y="435.3" font-size="7.4" font-weight="bold" fill="#f59a1c" stroke="#f59a1c" stroke-width="0.3" textLength="5.5" lengthAdjust="spacingAndGlyphs">S1</text>
<text x="752.8" y="449" font-size="8.4" font-weight="bold" fill="#141414" stroke="#141414" stroke-width="0.25" textLength="12.9" lengthAdjust="spacingAndGlyphs">Cys<tspan font-size="5.7" dy="-2.9">87</tspan></text>
<text x="740.9" y="461.9" font-size="8.4" font-weight="bold" fill="#141414" stroke="#141414" stroke-width="0.25" textLength="14.7" lengthAdjust="spacingAndGlyphs">Cys<tspan font-size="5.7" dy="-2.9">133</tspan></text>
<text x="733.5" y="467.4" font-size="7.4" font-weight="bold" fill="#f59a1c" stroke="#f59a1c" stroke-width="0.3" textLength="6.5" lengthAdjust="spacingAndGlyphs">S2</text>
<text x="728" y="478.8" font-size="8.4" font-weight="bold" fill="#141414" stroke="#141414" stroke-width="0.25" textLength="15.6" lengthAdjust="spacingAndGlyphs">Cys<tspan font-size="5.7" dy="-2.9">193</tspan></text>
<text x="692.9" y="480.4" font-size="8.4" font-weight="bold" fill="#141414" stroke="#141414" stroke-width="0.25" textLength="15.2" lengthAdjust="spacingAndGlyphs">Cys<tspan font-size="5.7" dy="-2.9">213</tspan></text>
<text x="560.1" y="410.8" font-size="3.9" font-weight="bold" fill="#222" textLength="23.4" lengthAdjust="spacingAndGlyphs">Free sulfhydryl</text>
<text x="560.1" y="415.6" font-size="3.9" font-weight="bold" fill="#222" textLength="7.8" lengthAdjust="spacingAndGlyphs">Cys<tspan font-size="2.6" dy="-1.2">88</tspan></text>
<text x="772.3" y="408" font-size="3.9" font-weight="bold" fill="#222" textLength="23.4" lengthAdjust="spacingAndGlyphs">Free sulfhydryl</text>
<text x="772.3" y="414.2" font-size="3.9" font-weight="bold" fill="#222" textLength="7.8" lengthAdjust="spacingAndGlyphs">Cys<tspan font-size="2.6" dy="-1.2">88</tspan></text>
<path d="M567.5,416.2 L567.5,421.6 L582.6,421.6 M776.4,416.9 L776.4,422.4 L759.3,422.4" stroke="#3b8fe0" stroke-width="0.8" fill="none"/>
<path d="M651.6,451.3 L662.5,464.3 L662.5,481.1 M644,461.1 L650.5,469.7 L650.5,481.1 M690.4,451.3 L679.5,464.3 L679.5,481.1 M698,461.1 L691.5,469.7 L691.5,481.1" stroke="#ee4048" stroke-width="1.0" fill="none"/>
<path d="M662.5,467 L679.5,467 M662.5,473.2 L679.5,473.2" stroke="#f0801e" stroke-width="1.4" fill="none"/>
<text x="653.8" y="474" font-size="8.6" textLength="5.6" lengthAdjust="spacingAndGlyphs" fill="#333">Hi</text>
<text x="681" y="474" font-size="8.6" textLength="5.6" lengthAdjust="spacingAndGlyphs" fill="#333">Hi</text>
<text x="667.9" y="465.8" font-size="6.6" font-weight="bold" fill="#f59a1c" stroke="#f59a1c" stroke-width="0.3" textLength="6" lengthAdjust="spacingAndGlyphs">S8</text>
<text x="667.9" y="479.4" font-size="6.6" font-weight="bold" fill="#f59a1c" stroke="#f59a1c" stroke-width="0.3" textLength="6" lengthAdjust="spacingAndGlyphs">S9</text>
<text x="660" y="459.2" font-size="8.4" font-weight="bold" fill="#141414" stroke="#141414" stroke-width="0.25" textLength="16" lengthAdjust="spacingAndGlyphs">Cys<tspan font-size="5.7" dy="-2.9">226</tspan></text>
<text x="662.5" y="488.6" font-size="8.4" font-weight="bold" fill="#141414" stroke="#141414" stroke-width="0.25" textLength="15.7" lengthAdjust="spacingAndGlyphs">Cys<tspan font-size="5.7" dy="-2.9">229</tspan></text>
<rect x="650.5" y="481.1" width="12" height="97" fill="#1d7fc4"/><rect x="679.4" y="481.1" width="12" height="97" fill="#1d7fc4"/>
<path d="M650.5,531.3 L662.5,531.3 M679.4,531.3 L691.4,531.3" stroke="#1b4f86" stroke-width="0.6"/>
<text x="656.5" y="499.4" font-size="9" fill="#0e2f55" stroke="#0e2f55" stroke-width="0.3" text-anchor="middle" textLength="4.8" lengthAdjust="spacingAndGlyphs">C</text>
<text x="656.5" y="510.6" font-size="9" fill="#0e2f55" stroke="#0e2f55" stroke-width="0.3" text-anchor="middle" textLength="4.8" lengthAdjust="spacingAndGlyphs">H</text>
<text x="656.5" y="522.3" font-size="9" fill="#0e2f55" stroke="#0e2f55" stroke-width="0.3" text-anchor="middle" textLength="4.8" lengthAdjust="spacingAndGlyphs">2</text>
<text x="656.5" y="547.1" font-size="9" fill="#0e2f55" stroke="#0e2f55" stroke-width="0.3" text-anchor="middle" textLength="4.8" lengthAdjust="spacingAndGlyphs">C</text>
<text x="656.5" y="557.8" font-size="9" fill="#0e2f55" stroke="#0e2f55" stroke-width="0.3" text-anchor="middle" textLength="4.8" lengthAdjust="spacingAndGlyphs">H</text>
<text x="656.5" y="569.5" font-size="9" fill="#0e2f55" stroke="#0e2f55" stroke-width="0.3" text-anchor="middle" textLength="4.8" lengthAdjust="spacingAndGlyphs">3</text>
<text x="685.4" y="499.4" font-size="9" fill="#0e2f55" stroke="#0e2f55" stroke-width="0.3" text-anchor="middle" textLength="4.8" lengthAdjust="spacingAndGlyphs">C</text>
<text x="685.4" y="510.6" font-size="9" fill="#0e2f55" stroke="#0e2f55" stroke-width="0.3" text-anchor="middle" textLength="4.8" lengthAdjust="spacingAndGlyphs">H</text>
<text x="685.4" y="522.3" font-size="9" fill="#0e2f55" stroke="#0e2f55" stroke-width="0.3" text-anchor="middle" textLength="4.8" lengthAdjust="spacingAndGlyphs">2</text>
<text x="685.4" y="547.1" font-size="9" fill="#0e2f55" stroke="#0e2f55" stroke-width="0.3" text-anchor="middle" textLength="4.8" lengthAdjust="spacingAndGlyphs">C</text>
<text x="685.4" y="557.8" font-size="9" fill="#0e2f55" stroke="#0e2f55" stroke-width="0.3" text-anchor="middle" textLength="4.8" lengthAdjust="spacingAndGlyphs">H</text>
<text x="685.4" y="569.5" font-size="9" fill="#0e2f55" stroke="#0e2f55" stroke-width="0.3" text-anchor="middle" textLength="4.8" lengthAdjust="spacingAndGlyphs">3</text>
<path d="M650.5,487.4 L645.2,487.4 L645.2,519.2 L650.5,519.2 M650.5,535.8 L645.2,535.8 L645.2,566.9 L650.5,566.9 M691.4,487.4 L696.7,487.4 L696.7,519.2 L691.4,519.2 M691.4,535.8 L696.7,535.8 L696.7,566.9 L691.4,566.9" stroke="#f0801e" stroke-width="1.9" fill="none"/>
<text x="627.2" y="497.5" font-size="8.4" font-weight="bold" fill="#141414" stroke="#141414" stroke-width="0.25" textLength="15.6" lengthAdjust="spacingAndGlyphs">Cys<tspan font-size="5.7" dy="-2.9">261</tspan></text>
<text x="633.6" y="508.2" font-size="6.8" font-weight="bold" fill="#f59a1c" stroke="#f59a1c" stroke-width="0.3" textLength="5.7" lengthAdjust="spacingAndGlyphs">S6</text>
<text x="627.2" y="518.9" font-size="8.4" font-weight="bold" fill="#141414" stroke="#141414" stroke-width="0.25" textLength="15.6" lengthAdjust="spacingAndGlyphs">Cys<tspan font-size="5.7" dy="-2.9">321</tspan></text>
<text x="627.2" y="547.4" font-size="8.4" font-weight="bold" fill="#141414" stroke="#141414" stroke-width="0.25" textLength="15.6" lengthAdjust="spacingAndGlyphs">Cys<tspan font-size="5.7" dy="-2.9">375</tspan></text>
<text x="633.6" y="557.9" font-size="6.8" font-weight="bold" fill="#f59a1c" stroke="#f59a1c" stroke-width="0.3" textLength="5.7" lengthAdjust="spacingAndGlyphs">S7</text>
<text x="627.2" y="567.9" font-size="8.4" font-weight="bold" fill="#141414" stroke="#141414" stroke-width="0.25" textLength="15.6" lengthAdjust="spacingAndGlyphs">Cys<tspan font-size="5.7" dy="-2.9">433</tspan></text>
<text x="698" y="497.5" font-size="8.4" font-weight="bold" fill="#141414" stroke="#141414" stroke-width="0.25" textLength="15.6" lengthAdjust="spacingAndGlyphs">Cys<tspan font-size="5.7" dy="-2.9">261</tspan></text>
<text x="700.9" y="508.2" font-size="6.8" font-weight="bold" fill="#f59a1c" stroke="#f59a1c" stroke-width="0.3" textLength="5.7" lengthAdjust="spacingAndGlyphs">S6</text>
<text x="698" y="518.9" font-size="8.4" font-weight="bold" fill="#141414" stroke="#141414" stroke-width="0.25" textLength="15.6" lengthAdjust="spacingAndGlyphs">Cys<tspan font-size="5.7" dy="-2.9">321</tspan></text>
<text x="698" y="547.4" font-size="8.4" font-weight="bold" fill="#141414" stroke="#141414" stroke-width="0.25" textLength="15.6" lengthAdjust="spacingAndGlyphs">Cys<tspan font-size="5.7" dy="-2.9">375</tspan></text>
<text x="700.9" y="557.9" font-size="6.8" font-weight="bold" fill="#f59a1c" stroke="#f59a1c" stroke-width="0.3" textLength="5.7" lengthAdjust="spacingAndGlyphs">S7</text>
<text x="698" y="567.9" font-size="8.4" font-weight="bold" fill="#141414" stroke="#141414" stroke-width="0.25" textLength="15.6" lengthAdjust="spacingAndGlyphs">Cys<tspan font-size="5.7" dy="-2.9">433</tspan></text>
<text x="652.2" y="586.2" font-size="7" font-weight="bold" fill="#222" textLength="6.3" lengthAdjust="spacingAndGlyphs">-K</text>
<text x="682" y="586.2" font-size="7" font-weight="bold" fill="#222" textLength="6.3" lengthAdjust="spacingAndGlyphs">-K</text>
<text x="510" y="468" font-size="20" fill="#d22630" textLength="54.8" lengthAdjust="spacingAndGlyphs" stroke="#d22630" stroke-width="0.55">Fab段</text>
<text x="558.2" y="548.4" font-size="20" fill="#d22630" textLength="41.6" lengthAdjust="spacingAndGlyphs" stroke="#d22630" stroke-width="0.55">Fc段</text>
<path d="M543.9,410 L535.6,417.3 L601.4,490.5 L611.4,484.8 M621.4,489.8 L609.7,492.4 L609.7,573 L621.4,575.3" stroke="#d83a4c" stroke-width="0.9" fill="none"/>
<rect x="784" y="423.1" width="52" height="33" fill="#d2d2d2" stroke="#bdbdbd" stroke-width="0.5"/>
<circle cx="788.8" cy="427.9" r="2.1" fill="#ffee22" stroke="#8a8000" stroke-width="0.4"/>
<circle cx="788.8" cy="435.8" r="2.2" fill="#2fbf24" stroke="#167a10" stroke-width="0.4"/>
<rect x="786.9" y="442.2" width="3.8" height="3" fill="#2b55c8"/>
<polygon points="787.2,449.3 791,451.2 787.2,453.1" fill="#d02020"/>
<text x="794.2" y="429.7" font-size="5.2" font-weight="bold" fill="#222" stroke="#222" stroke-width="0.15" textLength="26.5" lengthAdjust="spacingAndGlyphs">= Gal (162 Da)</text>
<text x="794.2" y="437.6" font-size="5.2" font-weight="bold" fill="#222" stroke="#222" stroke-width="0.15" textLength="27.5" lengthAdjust="spacingAndGlyphs">= Man (162 Da)</text>
<text x="794.2" y="445.3" font-size="5.2" font-weight="bold" fill="#222" stroke="#222" stroke-width="0.15" textLength="33" lengthAdjust="spacingAndGlyphs">= GlcNac (203 Da)</text>
<text x="794.2" y="453" font-size="5.2" font-weight="bold" fill="#222" stroke="#222" stroke-width="0.15" textLength="27" lengthAdjust="spacingAndGlyphs">= Fuc (146 Da)</text>
<text x="751.1" y="490.2" font-size="8.8" font-weight="bold" fill="#141414" stroke="#141414" stroke-width="0.2" textLength="79.3" lengthAdjust="spacingAndGlyphs">Main Glycosylation forms</text>
<path d="M772.4,501 L773.1,507 L776.4,512.2 L779.6999999999999,507 L780.4,501 M776.4,512.2 L776.4,523" stroke="#555" stroke-width="0.5" fill="none"/><rect x="770.6999999999999" y="498.9" width="3.4" height="3.3" fill="#2b55c8"/><rect x="778.6999999999999" y="498.9" width="3.4" height="3.3" fill="#2b55c8"/><circle cx="773.1" cy="506.9" r="2.15" fill="#2fbf24"/><circle cx="779.6999999999999" cy="506.9" r="2.15" fill="#2fbf24"/><circle cx="776.4" cy="512.3" r="2.15" fill="#2fbf24"/><rect x="774.6999999999999" y="516.2" width="3.4" height="3.3" fill="#2b55c8"/><rect x="774.6999999999999" y="521.6" width="3.4" height="3.3" fill="#2b55c8"/><polygon points="779.4,521.2 783.1999999999999,523.3 779.4,525.4" fill="#d02020"/>
<path d="M796.2,501 L796.9000000000001,507 L800.2,512.2 L803.5,507 L804.2,501 M800.2,512.2 L800.2,523" stroke="#555" stroke-width="0.5" fill="none"/><rect x="794.5" y="498.9" width="3.4" height="3.3" fill="#2b55c8"/><rect x="802.5" y="498.9" width="3.4" height="3.3" fill="#2b55c8"/><circle cx="796.9000000000001" cy="506.9" r="2.15" fill="#2fbf24"/><circle cx="803.5" cy="506.9" r="2.15" fill="#2fbf24"/><circle cx="800.2" cy="512.3" r="2.15" fill="#2fbf24"/><rect x="798.5" y="516.2" width="3.4" height="3.3" fill="#2b55c8"/><rect x="798.5" y="521.6" width="3.4" height="3.3" fill="#2b55c8"/><polygon points="803.2,521.2 807.0,523.3 803.2,525.4" fill="#d02020"/><path d="M800.5,495.3 L803.8000000000001,499" stroke="#555" stroke-width="0.5"/><circle cx="800.5" cy="495.3" r="2.15" fill="#ffee22" stroke="#8a8000" stroke-width="0.4"/>
<text x="772.6" y="533.6" font-size="5" font-weight="bold" fill="#222" textLength="8.4" lengthAdjust="spacingAndGlyphs">G0F</text>
<text x="796.4" y="533.6" font-size="5" font-weight="bold" fill="#222" textLength="8.4" lengthAdjust="spacingAndGlyphs">G1F</text>
<text x="766.3" y="541.6" font-size="4.9" font-weight="bold" fill="#222" textLength="22.6" lengthAdjust="spacingAndGlyphs">(+1444 Da)</text>
<text x="789.6" y="541.6" font-size="4.9" font-weight="bold" fill="#222" textLength="23" lengthAdjust="spacingAndGlyphs">(+1607 Da)</text>
<text x="709.1" y="535" font-size="8.4" font-weight="bold" fill="#141414" textLength="36.6" lengthAdjust="spacingAndGlyphs">-N<tspan font-size="5" dy="-3">297Glc</tspan><tspan dy="3"> STY-</tspan></text>
<polygon points="748.2,528.4 757,528.4 757,525.4 765,531.6 757,537.8 757,534.8 748.2,534.8" fill="#8d5fb4"/>
<text x="724.8" y="572" font-size="8.2" font-weight="bold" fill="#141414" textLength="126.8" lengthAdjust="spacingAndGlyphs">C<tspan font-size="5" dy="2">6424</tspan><tspan dy="-2">H</tspan><tspan font-size="5" dy="2">9892</tspan><tspan dy="-2">N</tspan><tspan font-size="5" dy="2">1698</tspan><tspan dy="-2">O</tspan><tspan font-size="5" dy="2">2016</tspan><tspan dy="-2">S</tspan><tspan font-size="5" dy="2">52</tspan><tspan dy="-2"> =145.2KD </tspan><tspan font-size="5.6">（Theory）</tspan></text>
</svg>
</body></html>
